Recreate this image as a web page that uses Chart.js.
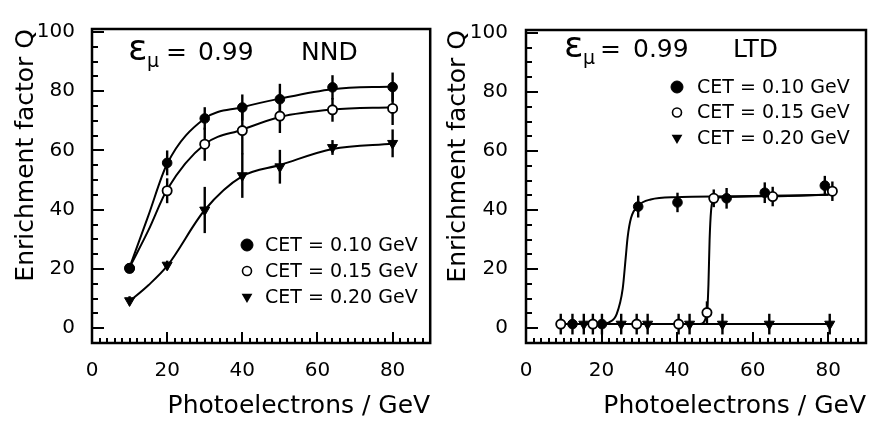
<!DOCTYPE html>
<html>
<head>
<meta charset="utf-8">
<script src="https://cdn.jsdelivr.net/npm/chart.js@4.4.1/dist/chart.umd.min.js"></script>
<style>
  html, body { margin: 0; padding: 0; background: #fff; }
  #wrap { position: relative; width: 873px; height: 421px; overflow: hidden; }
  .panel { position: absolute; top: 0; height: 421px; }
  #p1 { left: 0; width: 437px; }
  #p2 { left: 437px; width: 436px; }
</style>
</head>
<body>
<div id="wrap">
  <div class="panel" id="p1"><canvas id="c1"></canvas></div>
  <div class="panel" id="p2"><canvas id="c2"></canvas></div>
</div>
<script>
// ---- axis labels ----
const xTickLabels = [0, 20, 40, 60, 80];
const yTickLabels = [0, 20, 40, 60, 80, 100];
const seriesNames = ['CET = 0.10 GeV', 'CET = 0.15 GeV', 'CET = 0.20 GeV'];

// ---- NND: enrichment factor vs photoelectrons/GeV ----
const nndX = [10, 20, 30, 40, 50, 64, 80];
const nndQ010 = [20.2, 55.8, 70.8, 74.5, 77.3, 81.3, 81.4];
const nndErr010 = [1.0, 4.2, 3.8, 4.4, 5.2, 4.1, 4.9];
const nndQ015 = [20.2, 46.4, 62.1, 66.7, 71.6, 73.7, 74.2];
const nndErr015 = [1.0, 4.2, 5.6, 8.0, 5.7, 4.0, 5.6];
const nndQ020 = [9.3, 21.3, 39.9, 51.5, 54.5, 61.0, 62.4];
const nndErr020 = [1.5, 1.5, 7.8, 7.5, 5.7, 2.5, 4.7];

// fitted curves (NND)
const nndFitX = [10, 15, 20, 30, 40, 50, 64, 80];
const nndFit010 = [20.5, 38, 55.5, 70.8, 74.6, 77.5, 80.7, 81.6];
const nndFit015 = [20.5, 33, 46.8, 62.1, 67.0, 71.3, 73.8, 74.6];
const nndFit020 = [9.1, 14.5, 21.0, 39.9, 51.3, 55.1, 60.5, 62.3];

// ---- LTD ----
const ltdX010 = [12.3, 20.1, 29.7, 40.1, 53.1, 63.2, 79.1];
const ltdQ010 = [1.4, 1.4, 41.2, 42.6, 44.0, 45.9, 48.3];
const ltdErr010 = [3.5, 3.5, 3.7, 3.3, 3.5, 3.5, 3.3];
const ltdX015 = [9.2, 17.7, 29.3, 40.4, 47.9, 49.7, 65.3, 81.1];
const ltdQ015 = [1.4, 1.4, 1.4, 1.4, 5.3, 44.0, 44.6, 46.4];
const ltdErr015 = [3.5, 3.5, 3.5, 3.5, 3.8, 3.0, 3.3, 3.3];
const ltdX020 = [15.3, 25.2, 32.2, 43.3, 52.0, 64.4, 80.4];
const ltdQ020 = [1.4, 1.4, 1.4, 1.4, 1.4, 1.4, 1.4];
const ltdErr020 = [3.5, 3.5, 3.5, 3.5, 3.5, 3.5, 3.5];

// fitted curves (LTD)
const ltdFitX010 = [20.1, 22, 24, 25.6, 26.4, 26.9, 27.8, 29.7, 33, 40, 60, 80];
const ltdFitQ010 = [1.4, 2.0, 4.8, 13.4, 24, 30.8, 37.3, 41.5, 43.6, 44.4, 44.8, 45.2];
const ltdFitX015 = [9.2, 46, 47.9, 48.3, 48.6, 49.0, 49.6, 51, 65, 81.1];
const ltdFitQ015 = [1.4, 1.4, 5.0, 15, 30, 40, 43.3, 44.3, 44.7, 45.3];
const ltdFitX020 = [15.3, 80.4];
const ltdFitQ020 = [1.4, 1.4];

const INK = '#000';
const FONT = 'DejaVu Sans';

const pairs = (xs, ys) => xs.map((x, i) => ({ x: x, y: ys[i] }));

const markerStyles = [
  { pointStyle: 'circle', radius: 4.8, fill: INK, borderWidth: 1 },
  { pointStyle: 'circle', radius: 4.6, fill: '#fff', borderWidth: 1.8 },
  { pointStyle: 'triangle', rotation: 180, radius: 5.8, fill: INK, borderWidth: 1 }
];

function markerSet(xs, ys, errs, k) {
  const m = markerStyles[k];
  return {
    type: 'scatter',
    label: seriesNames[k],
    data: pairs(xs, ys),
    errors: errs,
    showLine: false,
    pointStyle: m.pointStyle,
    rotation: m.rotation || 0,
    pointRadius: m.radius,
    pointBackgroundColor: m.fill,
    pointBorderColor: INK,
    pointBorderWidth: m.borderWidth
  };
}

function fitSet(xs, ys) {
  return {
    type: 'line',
    data: pairs(xs, ys),
    borderColor: INK,
    borderWidth: 2,
    pointRadius: 0,
    fill: false,
    cubicInterpolationMode: 'monotone'
  };
}

// vertical error bars, drawn under the markers
const errorBars = {
  id: 'errorBars',
  beforeDatasetsDraw(chart) {
    const { ctx, scales: { x, y } } = chart;
    ctx.save();
    ctx.strokeStyle = INK;
    ctx.lineWidth = 2.4;
    chart.data.datasets.forEach(ds => {
      if (!ds.errors) return;
      ds.data.forEach((p, i) => {
        const e = ds.errors[i];
        const px = x.getPixelForValue(p.x);
        ctx.beginPath();
        ctx.moveTo(px, y.getPixelForValue(p.y - e));
        ctx.lineTo(px, y.getPixelForValue(p.y + e));
        ctx.stroke();
      });
    });
    ctx.restore();
  }
};

// closed frame with inward tick marks on the left and bottom edges
const frameTicks = {
  id: 'frameTicks',
  afterDraw(chart) {
    const { ctx, chartArea: a, scales: { x, y } } = chart;
    ctx.save();
    ctx.strokeStyle = INK;
    ctx.lineWidth = 2;
    ctx.beginPath();
    for (let v = 0; v <= 100; v += 5) {
      const py = Math.round(y.getPixelForValue(v));
      const len = v % 20 === 0 ? 12 : 6;
      ctx.moveTo(a.left, py);
      ctx.lineTo(a.left + len, py);
    }
    for (let v = 2; v < 90; v += 2) {
      const px = Math.round(x.getPixelForValue(v));
      const len = v % 20 === 0 ? 11 : 5;
      ctx.moveTo(px, a.bottom);
      ctx.lineTo(px, a.bottom - len);
    }
    ctx.stroke();
    ctx.lineWidth = 2.5;
    ctx.strokeRect(a.left, a.top, a.right - a.left, a.bottom - a.top);
    ctx.restore();
  }
};

function drawMarker(ctx, k, cx, cy, r) {
  ctx.save();
  ctx.strokeStyle = INK;
  ctx.beginPath();
  if (k === 2) {
    ctx.moveTo(cx - r * 0.9, cy - r * 0.55);
    ctx.lineTo(cx + r * 0.9, cy - r * 0.55);
    ctx.lineTo(cx, cy + r);
    ctx.closePath();
    ctx.fillStyle = INK;
    ctx.fill();
  } else {
    ctx.arc(cx, cy, r, 0, Math.PI * 2);
    ctx.fillStyle = k === 0 ? INK : '#fff';
    ctx.fill();
    ctx.lineWidth = k === 0 ? 1 : 1.6;
    ctx.stroke();
  }
  ctx.restore();
}

// in-plot heading and legend
const annotate = {
  id: 'annotate',
  afterDraw(chart, args, opts) {
    const ctx = chart.ctx;
    ctx.save();
    ctx.fillStyle = INK;
    ctx.textBaseline = 'alphabetic';
    ctx.textAlign = 'left';
    const h = opts.head;
    ctx.font = '36px "' + FONT + '"';
    ctx.fillText('ε', h.x, h.base);
    ctx.font = '19px "' + FONT + '"';
    ctx.fillText('μ', h.x + 19, h.base + 7);
    ctx.font = '25px "' + FONT + '"';
    ctx.fillText('=', h.eq, h.base);
    ctx.fillText('0.99', h.num, h.base);
    ctx.fillText(h.tag, h.tagX, h.base);

    const g = opts.legend;
    ctx.font = '19px "' + FONT + '"';
    ctx.textBaseline = 'middle';
    seriesNames.forEach((name, k) => {
      const yy = g.y + k * g.dy;
      drawMarker(ctx, k, g.mx, yy, k === 0 ? 6 : (k === 1 ? 4.5 : 6));
      ctx.fillText(name, g.tx, yy + 1);
    });
    ctx.restore();
  }
};

function buildChart(canvasId, datasets, geom) {
  return new Chart(document.getElementById(canvasId), {
    type: 'scatter',
    data: { datasets: datasets },
    options: {
      responsive: true,
      maintainAspectRatio: false,
      animation: false,
      devicePixelRatio: 1,
      layout: { padding: { top: 17, right: geom.padRight, left: 0, bottom: 0 } },
      plugins: {
        legend: { display: false },
        tooltip: { enabled: false },
        annotate: { head: geom.head, legend: geom.legend }
      },
      scales: {
        x: {
          type: 'linear', min: 0, max: 90,
          afterBuildTicks: s => { s.ticks = xTickLabels.map(v => ({ value: v })); },
          afterFit: s => { s.height = 78; },
          grid: { display: false, drawTicks: false },
          border: { display: false },
          ticks: { color: INK, padding: 16, font: { family: FONT, size: 20 }, maxRotation: 0 },
          title: {
            display: true, text: 'Photoelectrons / GeV', align: 'end', color: INK,
            font: { family: FONT, size: 25 }, padding: { top: 0, bottom: 0 }
          }
        },
        y: {
          type: 'linear', min: -5, max: 101,
          afterBuildTicks: s => { s.ticks = yTickLabels.map(v => ({ value: v })); },
          afterFit: s => { s.width = geom.yWidth; },
          grid: { display: false, drawTicks: false },
          border: { display: false },
          ticks: { color: INK, padding: geom.yPad, font: { family: FONT, size: 20 } },
          title: {
            display: true, text: 'Enrichment factor Q', align: 'end', color: INK,
            font: { family: FONT, size: 25 }, padding: { top: geom.titlePad, bottom: 0 }
          }
        }
      }
    },
    plugins: [errorBars, frameTicks, annotate]
  });
}

buildChart('c1', [
  markerSet(nndX, nndQ010, nndErr010, 0),
  markerSet(nndX, nndQ015, nndErr015, 1),
  markerSet(nndX, nndQ020, nndErr020, 2),
  fitSet(nndFitX, nndFit010),
  fitSet(nndFitX, nndFit015),
  fitSet(nndFitX, nndFit020)
], {
  padRight: 2, yWidth: 92, yPad: 17, titlePad: 11,
  head: { x: 128, base: 60, eq: 166, num: 198, tag: 'NND', tagX: 301 },
  legend: { mx: 247, tx: 265, y: 245, dy: 26 }
});

buildChart('c2', [
  markerSet(ltdX010, ltdQ010, ltdErr010, 0),
  markerSet(ltdX015, ltdQ015, ltdErr015, 1),
  markerSet(ltdX020, ltdQ020, ltdErr020, 2),
  fitSet(ltdFitX010, ltdFitQ010),
  fitSet(ltdFitX015, ltdFitQ015),
  fitSet(ltdFitX020, ltdFitQ020)
], {
  padRight: 7, yWidth: 89, yPad: 18, titlePad: 6,
  head: { x: 127, base: 57, eq: 163, num: 196, tag: 'LTD', tagX: 296 },
  legend: { mx: 240, tx: 260, y: 87, dy: 25.5 }
});
</script>
</body>
</html>
